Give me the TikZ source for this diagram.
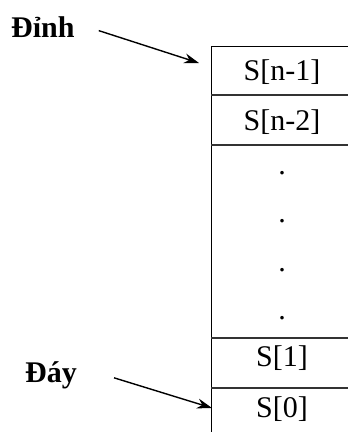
\documentclass[tikz,border=0pt]{standalone}
\usepackage{fontspec}
\setmainfont{Liberation Serif}
\usetikzlibrary{arrows.meta}

\tikzset{
  cell/.style={anchor=base, inner sep=0pt, font=\fontsize{30}{36}\selectfont},
  lbl/.style={anchor=base west, inner sep=0pt, font=\fontsize{30}{36}\selectfont\bfseries},
  ptr/.style={-{Stealth[length=15pt,width=10pt]}, line width=1.4pt}
}

\begin{document}
\begin{tikzpicture}[x=1pt,y=-1pt,line join=round]
  \useasboundingbox (0,0) rectangle (348,432);
  % the stack column, open to the right and below
  \draw[line width=1pt] (211,46) -- (348,46) (211,46) -- (211,432);
  \foreach \y in {95,145,338,388} \draw[line width=1.1pt,black!80] (211,\y)--(348,\y);
  % cells
  \node[cell] (sn1) at (282,80) {S[n-1]};
  \node[cell] (sn2) at (282,130) {S[n-2]};
  \foreach \y [count=\i] in {174,222,271,319} \node[cell] (dot\i) at (282,\y) {.};
  \node[cell] (s1) at (282,366) {S[1]};
  \node[cell] (s0) at (282,417) {S[0]};
  % labels and pointers
  \node[lbl] (dinh) at (11,37) {Đỉnh};
  \node[lbl] (day) at (25,382) {Đáy};
  \coordinate (topend) at (199,63);
  \coordinate (botend) at (212,408);
  \draw[ptr] ([shift={(24,4)}]dinh.east) -- (topend);
  \draw[ptr] ([shift={(37,3)}]day.east) -- (botend);
\end{tikzpicture}
\end{document}
